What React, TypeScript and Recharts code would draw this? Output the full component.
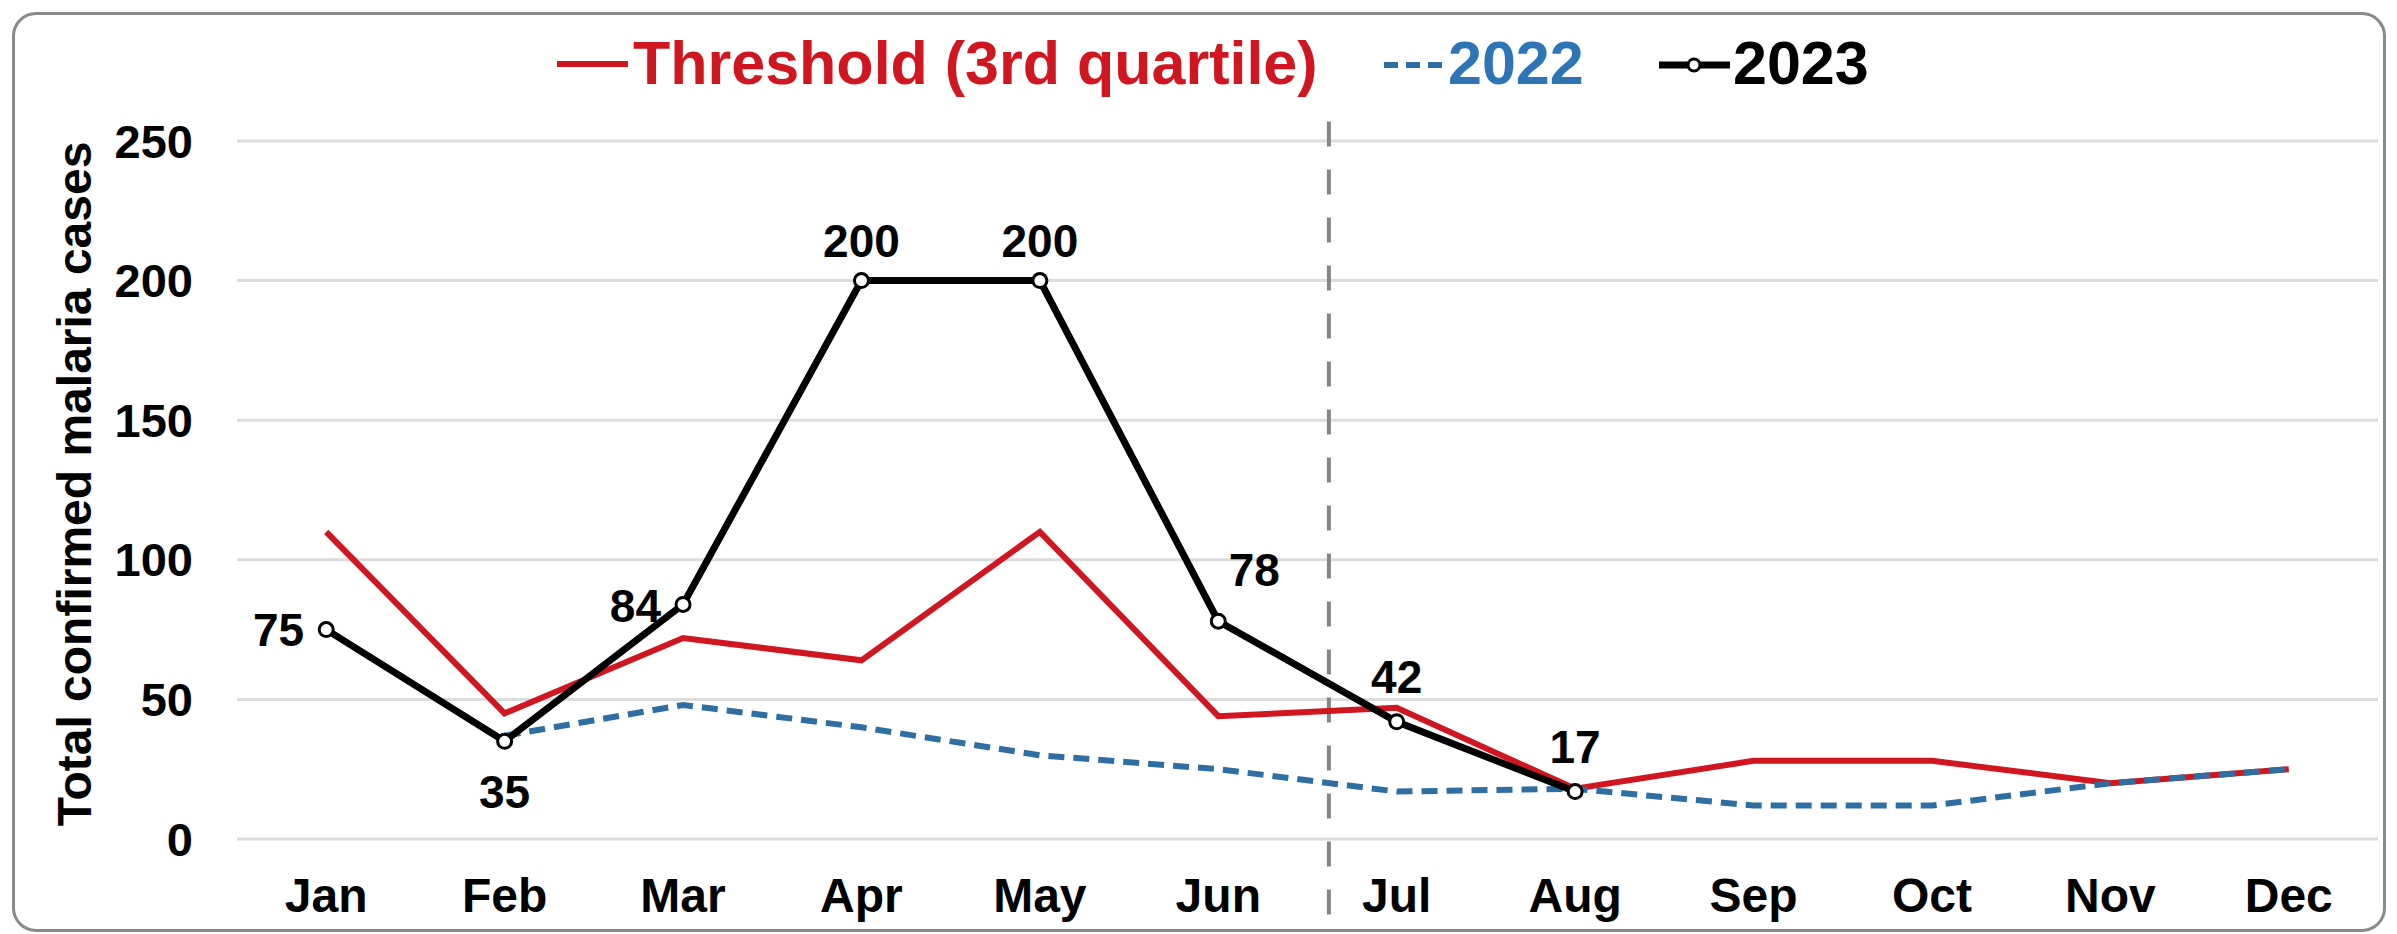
import React from 'react';
import { LineChart, Line, XAxis, YAxis, CartesianGrid, ReferenceLine, Legend } from 'recharts';

const months = ['Jan', 'Feb', 'Mar', 'Apr', 'May', 'Jun', 'Jul', 'Aug', 'Sep', 'Oct', 'Nov', 'Dec'];
const threshold = [110, 45, 72, 64, 110, 44, 47, 18, 28, 28, 20, 25];
const cases2022: (number | null)[] = [null, 37, 48, 40, 30, 25, 17, 18, 12, 12, 20, 25];
const cases2023: (number | null)[] = [75, 35, 84, 200, 200, 78, 42, 17, null, null, null, null];
const yTicks = [0, 50, 100, 150, 200, 250];
const cutoffMonth = 5.62;

const data = months.map((m, i) => ({
  idx: i,
  month: m,
  threshold: threshold[i],
  y2022: cases2022[i],
  y2023: cases2023[i],
}));

const FONT = '"Liberation Sans", Arial, Helvetica, sans-serif';
const RED = '#d0161e';
const BLUE_LINE = '#2e6fa3';
const BLUE_TEXT = '#2e75b6';

const labelStyle: Record<number, { dx: number; dy: number; anchor: 'start' | 'middle' | 'end' }> = {
  0: { dx: -22, dy: 16, anchor: 'end' },
  1: { dx: 0, dy: 67, anchor: 'middle' },
  2: { dx: -22, dy: 18, anchor: 'end' },
  3: { dx: 0, dy: -24, anchor: 'middle' },
  4: { dx: 0, dy: -24, anchor: 'middle' },
  5: { dx: 36, dy: -35, anchor: 'middle' },
  6: { dx: 0, dy: -29, anchor: 'middle' },
  7: { dx: 0, dy: -29, anchor: 'middle' },
};

const renderLabel = (props: any) => {
  const { x, y, value, index } = props;
  if (value === null || value === undefined) return null;
  const s = labelStyle[index] || { dx: 0, dy: -29, anchor: 'middle' };
  return (
    <text
      key={`lbl-${index}`}
      x={x + s.dx}
      y={y + s.dy}
      textAnchor={s.anchor}
      fontFamily={FONT}
      fontWeight="bold"
      fontSize={46}
      fill="#000"
    >
      {value}
    </text>
  );
};

const renderLegend = () => (
  <svg width={2397} height={100} style={{ display: 'block' }}>
    <line x1={557} y1={64} x2={628} y2={64} stroke={RED} strokeWidth={6} />
    <text x={633} y={84} fontFamily={FONT} fontWeight="bold" fontSize={61} fill={RED}>
      Threshold (3rd quartile)
    </text>
    <line x1={1384} y1={65} x2={1444} y2={65} stroke={BLUE_LINE} strokeWidth={6} strokeDasharray="14 8" />
    <text x={1448} y={84} fontFamily={FONT} fontWeight="bold" fontSize={61} fill={BLUE_TEXT}>
      2022
    </text>
    <line x1={1659} y1={65} x2={1730} y2={65} stroke="#000" strokeWidth={7} />
    <circle cx={1694} cy={65} r={6} fill="#fff" stroke="#000" strokeWidth={3} />
    <text x={1733} y={84} fontFamily={FONT} fontWeight="bold" fontSize={61} fill="#000">
      2023
    </text>
  </svg>
);

export default function App() {
  return (
    <div style={{ position: 'absolute', left: 0, top: 0, width: 2397, height: 934, background: '#fff', overflow: 'hidden' }}>
      <div
        style={{
          position: 'absolute',
          left: 12,
          top: 12,
          width: 2368,
          height: 914,
          border: '3px solid #8a8a8a',
          borderRadius: 24,
        }}
      />
      <div style={{ position: 'absolute', left: 0, top: 0 }}>
        <LineChart width={2397} height={934} data={data} margin={{ top: 141, right: 19, bottom: 0, left: 0 }}>
          <CartesianGrid vertical={false} stroke="#dcdcdc" strokeWidth={3} />
          <XAxis
            type="number"
            dataKey="idx"
            domain={[-0.5, 11.5]}
            ticks={months.map((_, i) => i)}
            interval={0}
            tickFormatter={(v: number) => months[v]}
            axisLine={false}
            tickLine={false}
            tickMargin={33}
            tick={{ fontFamily: FONT, fontWeight: 'bold', fontSize: 48, fill: '#000' }}
            height={95}
          />
          <YAxis
            domain={[0, 250]}
            ticks={yTicks}
            axisLine={false}
            tickLine={false}
            tickMargin={38}
            width={237}
            tick={{ fontFamily: FONT, fontWeight: 'bold', fontSize: 47, fill: '#000' }}
            label={{
              value: 'Total confirmed malaria cases',
              angle: -90,
              position: 'insideLeft',
              offset: 0,
              dx: 74,
              dy: -6,
              style: { fontFamily: FONT, fontWeight: 'bold', fontSize: 48, fill: '#000', textAnchor: 'middle' },
            }}
          />
          <Legend
            verticalAlign="middle"
            align="center"
            layout="horizontal"
            content={renderLegend}
            wrapperStyle={{ top: 0, left: 0, width: 2397, height: 100 }}
          />
          <ReferenceLine
            segment={[
              { x: cutoffMonth, y: 257 },
              { x: cutoffMonth, y: -34 },
            ]}
            ifOverflow="visible"
            stroke="#858585"
            strokeWidth={4}
            strokeDasharray="25 23"
          />
          <Line
            type="linear"
            dataKey="threshold"
            name="Threshold (3rd quartile)"
            stroke={RED}
            strokeWidth={6}
            dot={false}
            activeDot={false}
            isAnimationActive={false}
          />
          <Line
            type="linear"
            dataKey="y2022"
            name="2022"
            stroke={BLUE_LINE}
            strokeWidth={6}
            strokeDasharray="16 9"
            dot={false}
            activeDot={false}
            isAnimationActive={false}
          />
          <Line
            type="linear"
            dataKey="y2023"
            name="2023"
            stroke="#000"
            strokeWidth={7}
            dot={{ r: 7, fill: '#fff', stroke: '#000', strokeWidth: 3 }}
            activeDot={false}
            label={renderLabel}
            isAnimationActive={false}
          />
        </LineChart>
      </div>
    </div>
  );
}
